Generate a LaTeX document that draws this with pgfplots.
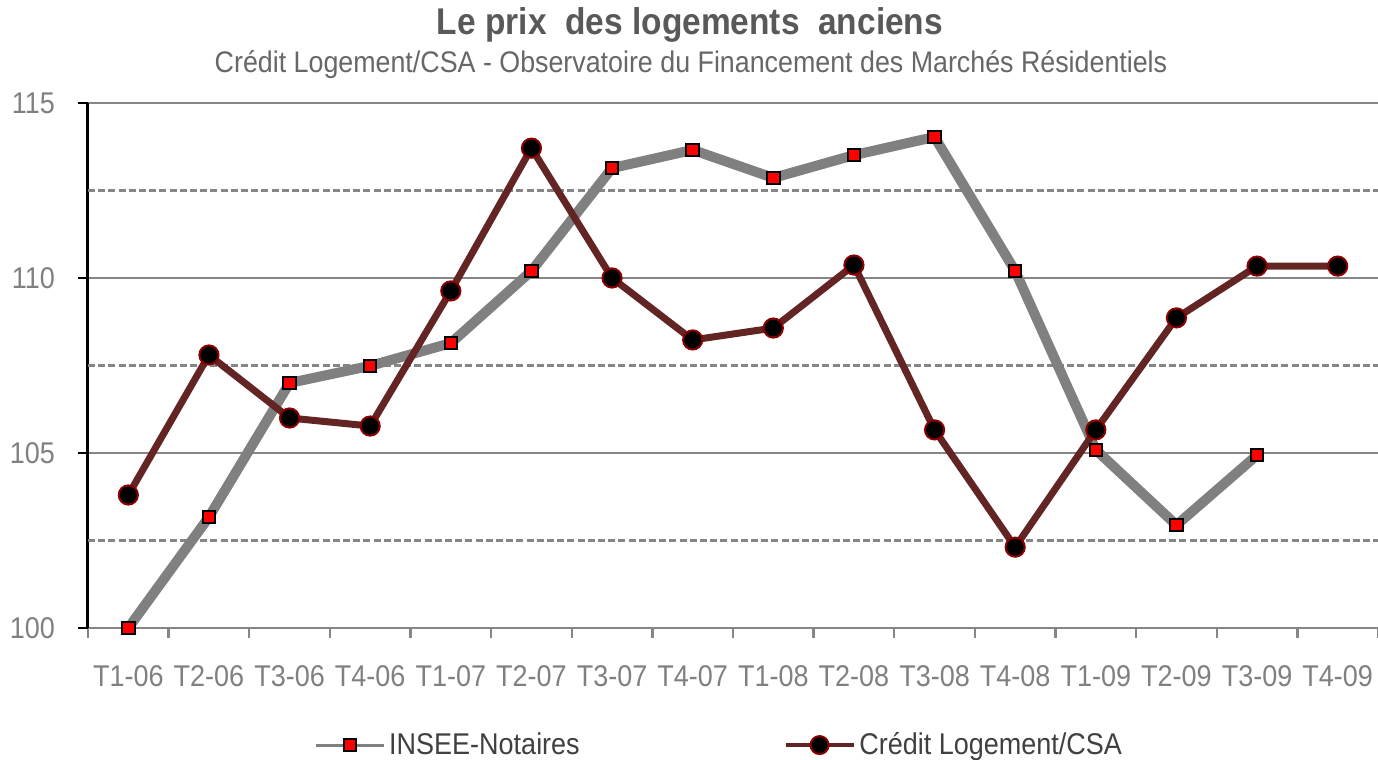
\documentclass[border=0pt]{standalone}
\usepackage{fontspec}
\setmainfont[FakeStretch=0.9]{Liberation Sans}
\usepackage{pgfplots}
\pgfplotsset{compat=1.18}
\definecolor{insee}{HTML}{808080}
\definecolor{csa}{HTML}{632523}
\definecolor{csaedge}{HTML}{8B0000}
\definecolor{gridc}{HTML}{868686}
\definecolor{ticklab}{HTML}{808080}
\definecolor{titlec}{HTML}{595959}
\definecolor{legc}{HTML}{404040}
\begin{document}
\begin{tikzpicture}
\begin{axis}[
 at={(44pt,66pt)}, anchor=south west,
 scale only axis, width=645pt, height=262.5pt,
 xmin=-0.5, xmax=15.5, ymin=100, ymax=115,
 axis x line*=bottom, axis y line*=left,
 x axis line style={draw=gridc, line width=1.3pt, -},
 y axis line style={draw=black, line width=1.5pt, -},
 xtick={0,...,15},
 xticklabels={T1-06,T2-06,T3-06,T4-06,T1-07,T2-07,T3-07,T4-07,T1-08,T2-08,T3-08,T4-08,T1-09,T2-09,T3-09,T4-09},
 minor xtick={-0.5,0.5,...,15.5},
 major x tick style={draw=none},
 minor x tick style={draw=gridc, line width=1.2pt},
 ytick={100,105,110,115},
 major y tick style={draw=black, line width=1.3pt},
 tick align=outside,
 major tick length=5pt, minor tick length=5pt,
 ymajorgrids, major grid style={draw=gridc, line width=1.1pt},
 /pgf/number format/assume math mode=true,
 ticklabel style={font=\fontsize{15}{18}\selectfont, text=ticklab},
 xticklabel style={yshift=-10pt},
 yticklabel style={xshift=-8pt},
 clip=false,
 legend columns=2,
 legend image code/.code={\draw[mark repeat=2,mark phase=2,#1] plot coordinates {(0pt,0pt) (17pt,0pt) (34pt,0pt)};},
 legend style={at={(0.49,-0.223)}, anchor=center, draw=none, fill=none,
   font=\fontsize{15}{18}\selectfont, text=legc,
   /tikz/every even column/.append style={column sep=100pt}},
]
\addplot[forget plot, draw=gridc, line width=1.3pt, dash pattern=on 3.5pt off 1.6pt] coordinates {(-0.5,102.5) (15.5,102.5)};
\addplot[forget plot, draw=gridc, line width=1.3pt, dash pattern=on 3.5pt off 1.6pt] coordinates {(-0.5,107.5) (15.5,107.5)};
\addplot[forget plot, draw=gridc, line width=1.3pt, dash pattern=on 3.5pt off 1.6pt] coordinates {(-0.5,112.5) (15.5,112.5)};

\addplot[forget plot, draw=insee, line width=5pt, mark=square*, mark size=3.1pt,
  mark options={fill=red, draw=black, line width=1pt, solid}] coordinates {
(0,100.0) (1,103.17) (2,107.0) (3,107.49) (4,108.14) (5,110.2) (6,113.14) (7,113.66)
(8,112.86) (9,113.51) (10,114.03) (11,110.2) (12,105.09) (13,102.94) (14,104.94)};

\addplot[forget plot, draw=csa, line width=3.5pt, mark=*, mark size=4.8pt,
  mark options={fill=black, draw=csaedge, line width=1pt, solid}] coordinates {
(0,103.8) (1,107.8) (2,106.0) (3,105.77) (4,109.63) (5,113.71) (6,110.0) (7,108.23)
(8,108.57) (9,110.37) (10,105.66) (11,102.31) (12,105.66) (13,108.86) (14,110.34) (15,110.34)};

\addlegendimage{draw=insee, line width=1.5pt, mark=square*, mark size=3pt, mark options={fill=red, draw=black, line width=1pt}}
\addlegendentry{INSEE-Notaires}
\addlegendimage{draw=csa, line width=1.8pt, mark=*, mark size=4.5pt, mark options={fill=black, draw=csaedge, line width=1pt}}
\addlegendentry{Crédit Logement/CSA}
\end{axis}
\node[font=\bfseries\fontsize{18.6}{22}\selectfont, text=titlec] at (345pt,367.5pt) {Le prix~ des logements~ anciens};
\node[font=\fontsize{14.9}{18}\selectfont, text=ticklab!80!black] at (345.5pt,347.5pt) {Crédit Logement/CSA - Observatoire du Financement des Marchés Résidentiels};
\pgfresetboundingbox
\path[use as bounding box] (0,0) rectangle (689pt,380pt);
\end{tikzpicture}
\end{document}
